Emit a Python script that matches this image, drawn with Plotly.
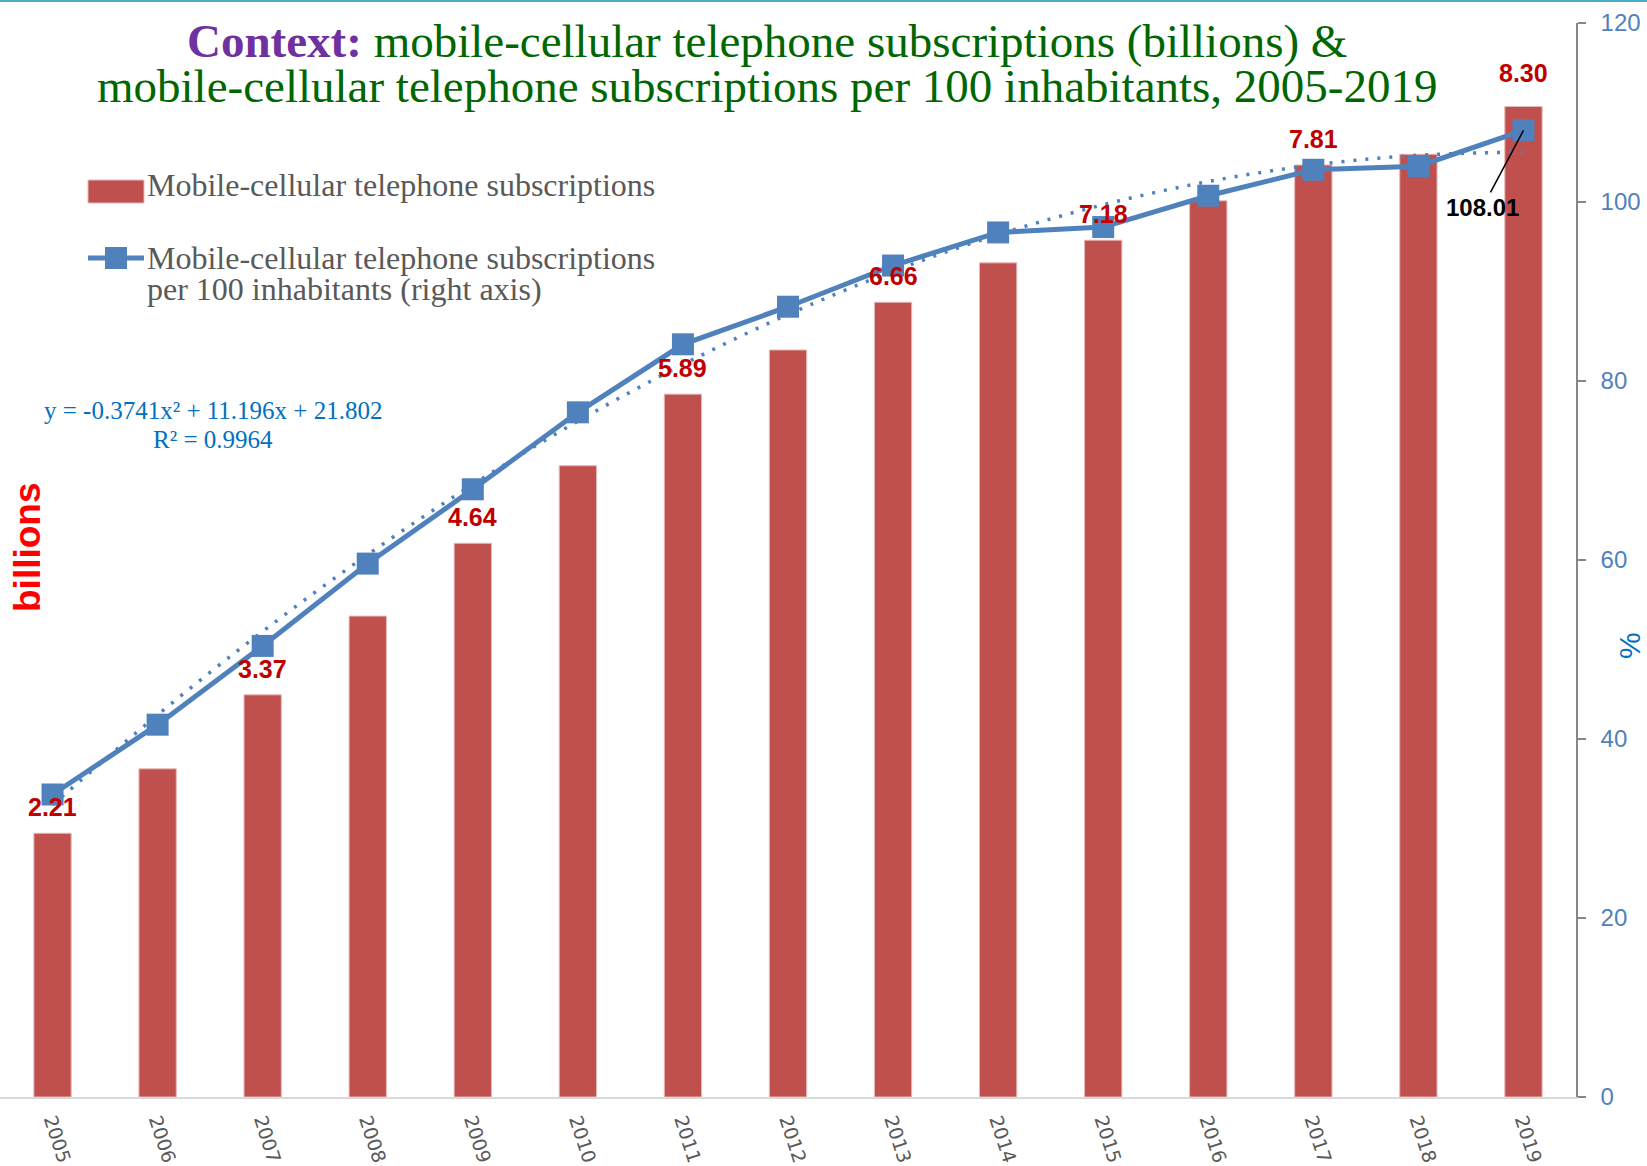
import plotly.graph_objects as go

# ---------------- data ----------------
years = ["2005", "2006", "2007", "2008", "2009", "2010", "2011", "2012",
         "2013", "2014", "2015", "2016", "2017", "2018", "2019"]
subs_billions = [2.21, 2.75, 3.37, 4.03, 4.64, 5.29, 5.89, 6.26,
                 6.66, 6.99, 7.18, 7.51, 7.81, 7.90, 8.30]
subs_per100 = [33.8, 41.6, 50.4, 59.6, 67.9, 76.5, 84.1, 88.3,
               92.9, 96.6, 97.2, 100.7, 103.6, 104.0, 108.01]
labelled_years = ["2005", "2007", "2009", "2011", "2013", "2015", "2017", "2019"]
# polynomial trendline shown on the chart: y = a x^2 + b x + c  (x = 1..15)
trend_coef = [-0.3741, 11.196, 21.802]
trend_equation = "y = -0.3741x² + 11.196x + 21.802"
trend_r2 = "R² = 0.9964"
right_ticks = [0, 20, 40, 60, 80, 100, 120]

# ---------------- layout helpers ----------------
FIG_W, FIG_H = 1647, 1166
M_L, M_R, M_T, M_B = 0, 71, 23, 69
PW = FIG_W - M_L - M_R
PH = FIG_H - M_T - M_B


def px(x):
    return (x - M_L) / PW


def py(y):
    return (FIG_H - M_B - y) / PH


RED = "#c0504d"
BLUE = "#4f81bd"
LBL_RED = "#c00000"
GREEN = "#006600"
PURPLE = "#7030a0"

trend_vals = [trend_coef[0] * i * i + trend_coef[1] * i + trend_coef[2]
              for i in range(1, len(years) + 1)]

fig = go.Figure()

fig.add_trace(go.Bar(
    x=years, y=subs_billions, name="Mobile-cellular telephone subscriptions",
    marker=dict(color=RED, line=dict(color="#e6b8b7", width=1)),
    yaxis="y", showlegend=False,
))

fig.add_trace(go.Scatter(
    x=years, y=subs_per100, yaxis="y2", mode="lines+markers",
    name="Mobile-cellular telephone subscriptions per 100 inhabitants (right axis)",
    line=dict(color=BLUE, width=5),
    marker=dict(symbol="square", size=22, color=BLUE),
    showlegend=False,
))

fig.add_trace(go.Scatter(
    x=years, y=trend_vals, yaxis="y2", mode="lines",
    name="Poly. trend", line=dict(color=BLUE, width=3.5, dash="3px,9px", shape="spline"),
    showlegend=False, hoverinfo="skip",
))

annotations = []

# data labels on bars (x given as category index)
for i, (yr, v) in enumerate(zip(years, subs_billions)):
    if yr in labelled_years:
        annotations.append(dict(
            x=i, y=v, xref="x", yref="y", text=f"{v:.2f}", showarrow=False,
            yanchor="bottom", yshift=10 if i != len(years) - 1 else 18,
            font=dict(family="Liberation Sans", size=25, color=LBL_RED, weight="bold"),
        ))

# last value of line with leader
annotations.append(dict(
    x=len(years) - 1, y=subs_per100[-1], xref="x", yref="y2",
    text=f"<b>{subs_per100[-1]:.2f}</b>", showarrow=True, arrowhead=0,
    arrowwidth=1.5, arrowcolor="black", ax=-41, ay=77, standoff=0,
    font=dict(family="Liberation Sans", size=24, color="black"),
))

# title
TITLE_FONT = dict(family="Liberation Serif", size=47, color=GREEN)
annotations.append(dict(
    x=px(767), y=py(41), xref="paper", yref="paper", xanchor="center", yanchor="middle",
    showarrow=False,
    text=f"<span style='color:{PURPLE}'><b>Context:</b></span> mobile-cellular telephone subscriptions (billions) &",
    font=TITLE_FONT,
))
annotations.append(dict(
    x=px(767), y=py(86), xref="paper", yref="paper", xanchor="center", yanchor="middle",
    showarrow=False,
    text="mobile-cellular telephone subscriptions per 100 inhabitants, 2005-2019",
    font=TITLE_FONT,
))

# legend texts
LEG_FONT = dict(family="Liberation Serif", size=32, color="#595959")
annotations.append(dict(x=px(145), y=py(185), xref="paper", yref="paper", xanchor="left",
                        yanchor="middle", showarrow=False,
                        text="Mobile-cellular telephone subscriptions", font=LEG_FONT))
annotations.append(dict(x=px(145), y=py(258), xref="paper", yref="paper", xanchor="left",
                        yanchor="middle", showarrow=False,
                        text="Mobile-cellular telephone subscriptions", font=LEG_FONT))
annotations.append(dict(x=px(145), y=py(289), xref="paper", yref="paper", xanchor="left",
                        yanchor="middle", showarrow=False,
                        text="per 100 inhabitants (right axis)", font=LEG_FONT))

# trend equation
EQ_FONT = dict(family="Liberation Serif", size=25, color="#0070c0")
annotations.append(dict(x=px(213), y=py(411), xref="paper", yref="paper", xanchor="center",
                        yanchor="middle", showarrow=False, text=trend_equation, font=EQ_FONT))
annotations.append(dict(x=px(213), y=py(439), xref="paper", yref="paper", xanchor="center",
                        yanchor="middle", showarrow=False, text=trend_r2, font=EQ_FONT))

# axis titles
annotations.append(dict(x=px(27), y=py(547), xref="paper", yref="paper", xanchor="center",
                        yanchor="middle", showarrow=False, text="<b>billions</b>", textangle=-90,
                        font=dict(family="Liberation Sans", size=37, color="#ff0000")))
annotations.append(dict(x=px(1629), y=py(646), xref="paper", yref="paper", xanchor="center",
                        yanchor="middle", showarrow=False, text="%", textangle=-90,
                        font=dict(family="Liberation Sans", size=30, color="#0070c0")))

shapes = [
    # top frame line
    dict(type="line", xref="paper", yref="paper", x0=-0.01, x1=1.1, y0=py(1), y1=py(1),
         line=dict(color="#4bacc6", width=2)),
    # legend swatches
    dict(type="rect", xref="paper", yref="paper", x0=px(88), x1=px(144), y0=py(203), y1=py(180),
         fillcolor=RED, line=dict(color="#e6b8b7", width=1)),
    dict(type="line", xref="paper", yref="paper", x0=px(88), x1=px(144), y0=py(258), y1=py(258),
         line=dict(color=BLUE, width=5)),
    dict(type="rect", xref="paper", yref="paper", x0=px(105), x1=px(127), y0=py(269), y1=py(247),
         fillcolor=BLUE, line=dict(color=BLUE, width=0)),
]

fig.update_layout(
    width=FIG_W, height=FIG_H,
    margin=dict(l=M_L, r=M_R, t=M_T, b=M_B, pad=0, autoexpand=False),
    paper_bgcolor="white", plot_bgcolor="white",
    bargap=0.645,
    showlegend=False,
    annotations=annotations,
    shapes=shapes,
    xaxis=dict(
        type="category", range=[-0.5, len(years) - 0.5], autorange=False, automargin=False,
        showgrid=False, showline=True, linecolor="#d9d9d9", linewidth=2,
        ticks="", tickangle=72, ticklabelstandoff=3,
        tickfont=dict(family="DejaVu Sans", size=19, color="#595959"),
        zeroline=False,
    ),
    yaxis=dict(
        range=[0, 9], autorange=False, automargin=False, showgrid=False, showline=False,
        showticklabels=False, ticks="", zeroline=False,
    ),
    yaxis2=dict(
        range=[0, 120], autorange=False, automargin=False, overlaying="y", side="right",
        tickvals=right_ticks,
        showgrid=False, showline=True, linecolor="#868686", linewidth=1.5,
        ticks="outside", ticklen=8, tickcolor="#868686", tickwidth=1.5,
        ticklabelstandoff=10,
        tickfont=dict(family="Liberation Sans", size=24, color=BLUE),
        zeroline=False,
    ),
)

fig.write_html("out.html", config={"displayModeBar": False},
               post_script="document.body.style.margin='0px';")
